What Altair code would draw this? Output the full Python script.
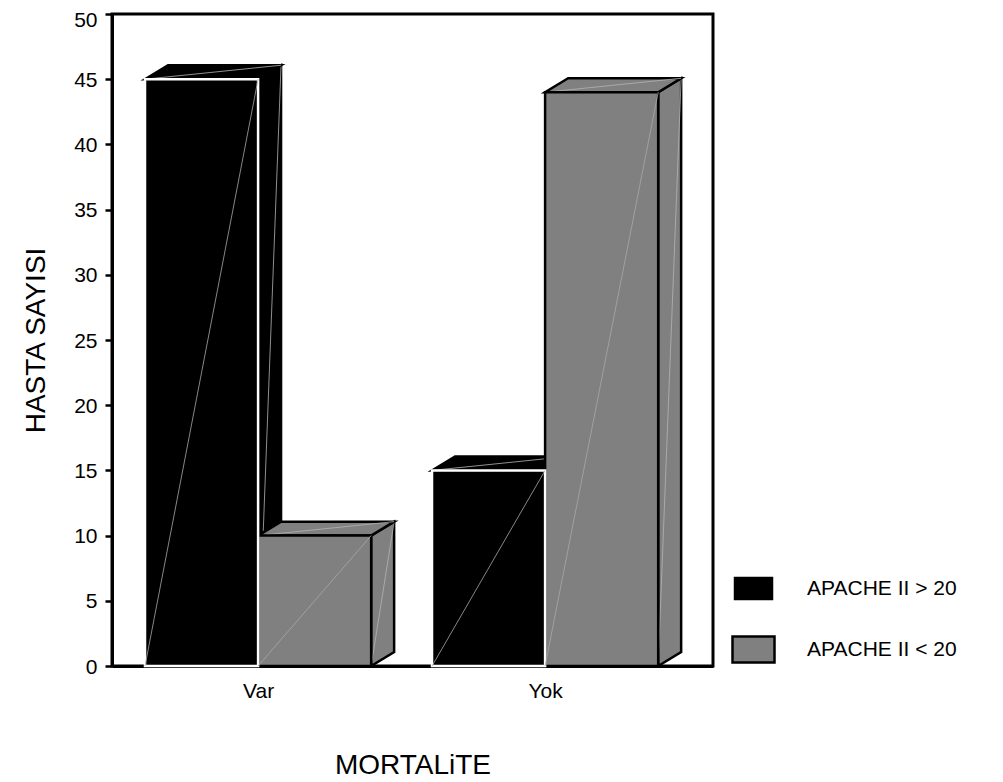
import json
import altair as alt
import pandas as pd

# ---- data ----
categories = ["Var", "Yok"]
series = ["APACHE II > 20", "APACHE II < 20"]
values_high = [45, 15]   # APACHE II > 20
values_low = [10, 44]    # APACHE II < 20
y_ticks = [0, 5, 10, 15, 20, 25, 30, 35, 40, 45, 50]

# ---- styling / layout constants ----
fill_colors = ["#000000", "#808080"]
front_strokes = ["#ffffff", "#000000"]
FONT = "Liberation Sans"
x_domain = [-0.509, 1.585]   # category centres at 0 and 1
bar_w = 0.394                # bar width in category units
depth_x = 0.080              # 3-D depth, x units
depth_y = 1.07               # 3-D depth, y units

series_vals = [values_high, values_low]

front, side, top, diag_side, diag_top, diag_front = [], [], [], [], [], []
bid = 0
for ci, cat in enumerate(categories):
    for si, s in enumerate(series):
        v = series_vals[si][ci]
        x0 = ci - bar_w + si * bar_w
        x1 = x0 + bar_w
        front.append(dict(series=s, x0=x0, x1=x1, v=v, ord=1 - si))
        side.append(dict(series=s, bar=bid, x=x1, y=0, y2=v))
        side.append(dict(series=s, bar=bid, x=x1 + depth_x, y=depth_y, y2=v + depth_y))
        top.append(dict(series=s, bar=bid, y=v, x=x0, x2=x1))
        top.append(dict(series=s, bar=bid, y=v + depth_y, x=x0 + depth_x, x2=x1 + depth_x))
        diag_front.append(dict(x=x0, y=0, x2=x1, y2=v))
        diag_side.append(dict(x=x1, y=0, x2=x1 + depth_x, y2=v + depth_y))
        diag_top.append(dict(x=x0, y=v, x2=x1 + depth_x, y2=v + depth_y))
        bid += 1

front_df = pd.DataFrame(front).sort_values("ord")  # grey fronts drawn first
side_df = pd.DataFrame(side)
top_df = pd.DataFrame(top)

xs = alt.Scale(domain=x_domain, nice=False, zero=False)
ys = alt.Scale(domain=[0, 50], nice=False)
cs = alt.Scale(domain=series, range=fill_colors)

label_expr = "%s[datum.value]" % json.dumps(categories)

x_axis = alt.Axis(values=[0, 1], labelExpr=label_expr, title="MORTALiTE",
                  ticks=False, tickSize=0, grid=False, labelPadding=14,
                  labelFontSize=21, titleFontSize=28, titleY=99,
                  titleBaseline="middle", titleFontWeight="normal")
y_axis = alt.Axis(values=y_ticks, title="HASTA SAYISI", grid=False,
                  tickSize=7, tickWidth=2.5, labelPadding=8, labelFontSize=21,
                  labelOffset={"condition": {"test": "datum.value == %d" % y_ticks[-1], "value": 6},
                               "value": 1},
                  titleFontSize=28, titleFontWeight="normal", titleX=-76,
                  titleY=326, titleAngle=270, titleBaseline="middle",
                  titleAlign="center")

legend = alt.Legend(title=None, orient="none", legendX=619, legendY=552,
                    symbolType="M-1,-0.62H1V0.62H-1Z", symbolSize=1764,
                    symbolStrokeColor="black", symbolStrokeWidth=2.5,
                    labelFontSize=21, labelOffset=31, rowPadding=20,
                    padding=0, labelFont=FONT, labelColor="black")

color_enc = alt.Color("series:N", scale=cs, legend=legend)

sides = alt.Chart(side_df).mark_area(stroke="black", strokeWidth=2.5, opacity=1).encode(
    x=alt.X("x:Q", scale=xs, axis=x_axis),
    y=alt.Y("y:Q", scale=ys, axis=y_axis, stack=None),
    y2="y2:Q",
    color=color_enc,
    detail="bar:N",
)

side_lines = alt.Chart(pd.DataFrame(diag_side)).mark_rule(color="#b4b4b4", strokeWidth=0.8).encode(
    x="x:Q", y="y:Q", x2="x2:Q", y2="y2:Q")

tops = alt.Chart(top_df).mark_area(orient="horizontal", stroke="black", strokeWidth=2.5, opacity=1).encode(
    y=alt.Y("y:Q", scale=ys),
    x=alt.X("x:Q", scale=xs, stack=None),
    x2="x2:Q",
    color=color_enc,
    detail="bar:N",
)

top_lines = alt.Chart(pd.DataFrame(diag_top)).mark_rule(color="#b4b4b4", strokeWidth=0.8).encode(
    x="x:Q", y="y:Q", x2="x2:Q", y2="y2:Q")

fronts = alt.Chart(front_df).mark_rect(strokeWidth=2.5, opacity=1).encode(
    x=alt.X("x0:Q", scale=xs),
    x2="x1:Q",
    y=alt.Y("v:Q", scale=ys),
    y2=alt.datum(0),
    color=color_enc,
    stroke=alt.Stroke("series:N", scale=alt.Scale(domain=series, range=front_strokes), legend=None),
    order=alt.Order("ord:Q"),
)

front_lines = alt.Chart(pd.DataFrame(diag_front)).mark_rule(color="#a8a8a8", strokeWidth=0.8).encode(
    x="x:Q", y="y:Q", x2="x2:Q", y2="y2:Q")

chart = alt.layer(sides, side_lines, tops, top_lines, fronts, front_lines).properties(
    width=601, height=652, autosize="none", background="white",
    padding={"left": 104, "top": 6, "right": 280, "bottom": 116},
).configure_view(stroke="black", strokeWidth=3).configure_axis(
    domainColor="black", domainWidth=3, tickColor="black", labelColor="black",
    titleColor="black", labelFont=FONT, titleFont=FONT,
)

chart.save("out.html", embed_options={"renderer": "svg", "actions": False})
